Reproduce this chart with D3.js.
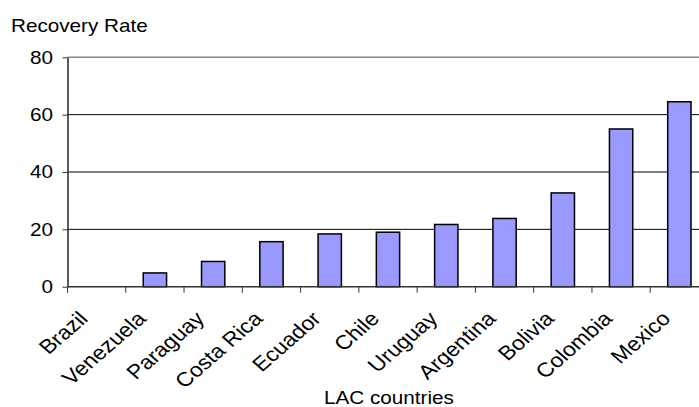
<!DOCTYPE html>
<html>
<head>
<meta charset="utf-8">
<script src="https://cdn.jsdelivr.net/npm/d3@7"></script>
<style>
  html, body { margin: 0; padding: 0; background: #fff; }
  svg { display: block; }
  text { font-family: "Liberation Sans", Arial, sans-serif; fill: #000; }
</style>
</head>
<body>
<svg id="chart" width="699" height="407"></svg>
<script>
const countries = ["Brazil", "Venezuela", "Paraguay", "Costa Rica", "Ecuador", "Chile", "Uruguay", "Argentina", "Bolivia", "Colombia", "Mexico"];
const recoveryRate = [0, 4.8, 8.8, 15.7, 18.4, 19.0, 21.7, 23.8, 32.7, 55.0, 64.5];
const yTicks = [0, 20, 40, 60, 80];
const yTitle = "Recovery Rate";
const xTitle = "LAC countries";

const data = countries.map((c, i) => ({ country: c, value: recoveryRate[i] }));
const svg = d3.select("#chart");
const stretch = 1.15;
const fontSize = 18;
const catFontSize = 20;

const x = d3.scaleBand().domain(countries).range([67.5, 708.5]).paddingInner(0.6).paddingOuter(0.3);
const y = d3.scaleLinear().domain([0, 80]).range([286.7, 57.3]);

// gridlines
svg.append("g").selectAll("line").data(yTicks.filter(d => d > 0)).join("line")
  .attr("x1", 67.5).attr("x2", 708.5)
  .attr("y1", d => y(d)).attr("y2", d => y(d))
  .attr("stroke", d => d === 80 ? "#888" : "#000")
  .attr("stroke-width", d => d === 80 ? 1.5 : 1);

// bars
svg.append("g").selectAll("rect").data(data.filter(d => d.value > 0)).join("rect")
  .attr("x", d => x(d.country))
  .attr("width", x.bandwidth())
  .attr("y", d => y(d.value))
  .attr("height", d => y(0) - y(d.value))
  .attr("fill", "#9999FF")
  .attr("stroke", "#000")
  .attr("stroke-width", 1.5);

// y axis
const yAxis = svg.append("g").attr("transform", "translate(67.5,0)")
  .call(d3.axisLeft(y).tickValues(yTicks).tickSize(5).tickSizeOuter(0).tickFormat(""));
yAxis.select(".domain").attr("stroke", "#333").attr("stroke-width", 1.6);
yAxis.selectAll(".tick line").attr("stroke", "#333");

svg.append("g").selectAll("text").data(yTicks).join("text")
  .attr("transform", d => `translate(53,${y(d)}) scale(${stretch},1)`)
  .attr("text-anchor", "end")
  .attr("dy", "0.35em")
  .attr("font-size", fontSize)
  .text(d => d);

// x axis (ticks at category boundaries)
const step = x.step();
const boundaries = d3.range(countries.length + 1).map(i => 67.5 + i * step);
svg.append("line")
  .attr("x1", 67.5).attr("x2", 708.5)
  .attr("y1", y(0)).attr("y2", y(0))
  .attr("stroke", "#333").attr("stroke-width", 1.6);
svg.append("g").selectAll("line").data(boundaries).join("line")
  .attr("x1", d => d).attr("x2", d => d)
  .attr("y1", y(0)).attr("y2", y(0) + 6)
  .attr("stroke", "#333").attr("stroke-width", 1);

svg.append("g").selectAll("text").data(countries).join("text")
  .attr("transform", d => `translate(${x(d) + x.bandwidth() / 2 - 7.5},320) scale(${stretch},1) rotate(-45)`)
  .attr("text-anchor", "end")
  .attr("font-size", catFontSize)
  .text(d => d);

// titles
svg.append("text")
  .attr("transform", `translate(11,32) scale(${stretch},1)`)
  .attr("font-size", fontSize)
  .text(yTitle);

svg.append("text")
  .attr("transform", `translate(389,404) scale(${stretch},1)`)
  .attr("text-anchor", "middle")
  .attr("font-size", fontSize)
  .text(xTitle);
</script>
</body>
</html>
